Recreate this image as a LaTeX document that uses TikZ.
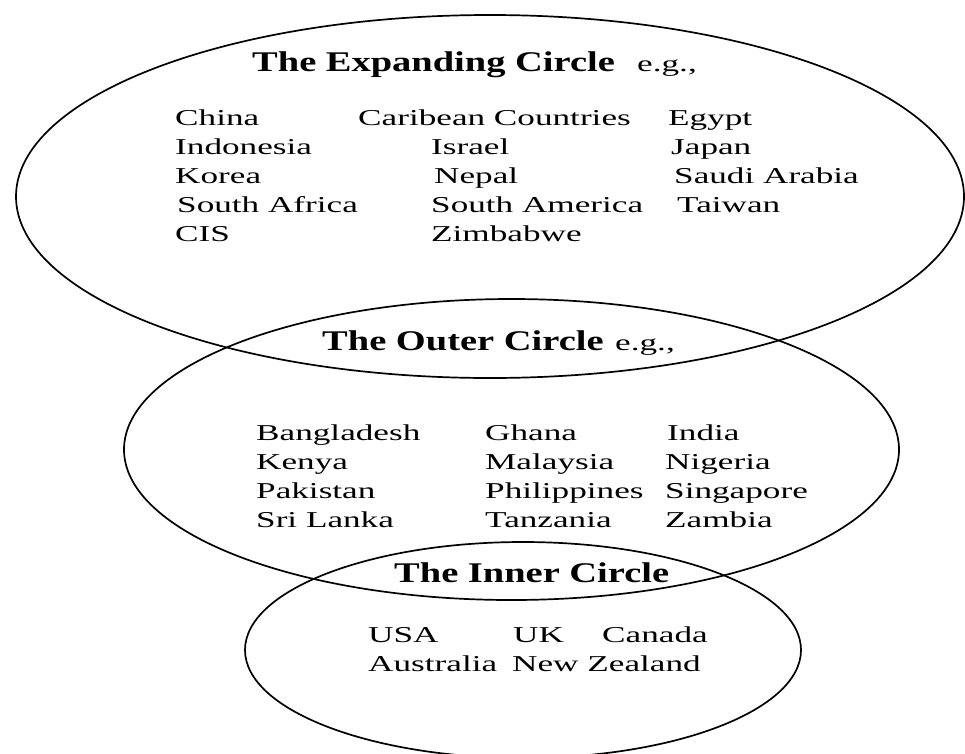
\documentclass[tikz,border=0pt]{standalone}
\usepackage{fontspec}
\newfontfamily\bodyf[FakeStretch=1.55]{Liberation Serif}
\newfontfamily\titlef[FakeStretch=1.35]{Liberation Serif}
\begin{document}
\begin{tikzpicture}[x=1pt,y=-1pt,
  ring/.style={draw=black, line width=1.7pt},
  body/.style={anchor=base west, inner sep=0pt, font=\bodyf\fontsize{22.7}{24}\selectfont},
  ttl/.style={anchor=base west, inner sep=0pt, font=\titlef\bfseries\fontsize{28.5}{30}\selectfont}]
\fill[white] (0,0) rectangle (965,753);
\useasboundingbox (0,0) rectangle (965,753);
\begin{scope}
\clip (0,0) rectangle (965,753);
\draw[ring] (490,196.5) ellipse [x radius=474pt, y radius=181.5pt];
\draw[ring] (511.5,449.5) ellipse [x radius=387.5pt, y radius=150.5pt];
\draw[ring] (523,650) ellipse [x radius=278pt, y radius=108pt];
\end{scope}
% Expanding circle
\node[ttl] (te) at (252,71) {The Expanding Circle};
\node[body] (teg) at (637,71) {e.g.,};
\node[body] (e11) at (175,125) {China};
\node[body] (e12) at (358,125) {Caribean Countries};
\node[body] (e13) at (668,125) {Egypt};
\node[body] (e21) at (175,154) {Indonesia};
\node[body] (e22) at (431,154) {Israel};
\node[body] (e23) at (671,154) {Japan};
\node[body] (e31) at (175,183) {Korea};
\node[body] (e32) at (434,183) {Nepal};
\node[body] (e33) at (674,183) {Saudi Arabia};
\node[body] (e41) at (177,212) {South Africa};
\node[body] (e42) at (431,212) {South America};
\node[body] (e43) at (677,212) {Taiwan};
\node[body] (e51) at (175,241) {CIS};
\node[body] (e52) at (431,241) {Zimbabwe};
% Outer circle
\node[ttl] (to) at (322,350) {The Outer Circle};
\node[body] (toeg) at (615,350) {e.g.,};
\node[body] (o11) at (256,440) {Bangladesh};
\node[body] (o12) at (485,440) {Ghana};
\node[body] (o13) at (667,440) {India};
\node[body] (o21) at (256,469) {Kenya};
\node[body] (o22) at (485,469) {Malaysia};
\node[body] (o23) at (665,469) {Nigeria};
\node[body] (o31) at (256,498) {Pakistan};
\node[body] (o32) at (485,498) {Philippines};
\node[body] (o33) at (665,498) {Singapore};
\node[body] (o41) at (256,527) {Sri Lanka};
\node[body] (o42) at (485,527) {Tanzania};
\node[body] (o43) at (665,527) {Zambia};
% Inner circle
\node[ttl] (ti) at (394,582) {The Inner Circle};
\node[body] (i11) at (368,642) {USA};
\node[body] (i12) at (513,642) {UK};
\node[body] (i13) at (602,642) {Canada};
\node[body] (i21) at (368,671) {Australia};
\node[body] (i22) at (512,671) {New Zealand};
\end{tikzpicture}
\end{document}
